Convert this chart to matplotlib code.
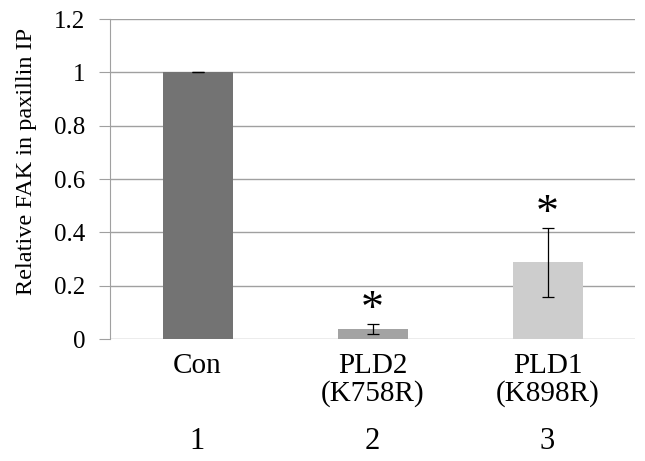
import matplotlib

matplotlib.use('Agg')

import matplotlib.pyplot as plt
import matplotlib.transforms as mtransforms
import numpy as np

plt.rcParams['font.family'] = ['Liberation Serif', 'DejaVu Serif']

categories = ['Con', 'PLD2', 'PLD1']
mutations = ['', '(K758R)', '(K898R)']
lane_numbers = ['1', '2', '3']
values = [1.0, 0.038, 0.288]
errors = [0.0, 0.02, 0.13]
significant = [False, True, True]
bar_colors = ['#737373', '#a3a3a3', '#cdcdcd']

W, H = 645, 461
fig = plt.figure(figsize=(W / 100, H / 100), dpi=100)
ax = fig.add_axes([110 / W, 1 - 339 / H, 525 / W, 320 / H])

x = np.arange(len(categories))
ax.bar(x, values, width=0.4, color=bar_colors, zorder=3)
ax.errorbar(x, values, yerr=errors, fmt='none', ecolor='black',
            elinewidth=0.9, capsize=4, capthick=0.9, zorder=4)

# significance stars sit just above the error bar caps
for xi, v, e, sig in zip(x, values, errors, significant):
    if sig:
        ax.text(xi, v + e - 0.03, '*', ha='center', va='bottom',
                fontsize=33, color='black')

ax.set_xlim(-0.5, len(categories) - 0.5)
ax.set_ylim(0, 1.2)
ax.set_yticks(np.arange(0, 1.21, 0.2))
ax.set_yticklabels(['0', '0.2', '0.4', '0.6', '0.8', '1', '1.2'], fontsize=18)
ax.yaxis.grid(True, color='#a0a0a0', linewidth=1.0, zorder=0)
ax.set_axisbelow(True)

ax.set_xticks([])
ax.tick_params(axis='y', length=8, color='#a0a0a0', pad=10)

for spine in ['top', 'right', 'bottom']:
    ax.spines[spine].set_visible(False)
ax.spines['left'].set_color('#a0a0a0')

# category labels under the axis, placed by figure pixel rows
trans = mtransforms.blended_transform_factory(ax.transData, fig.transFigure)
for xi, name, mut, n in zip(x, categories, mutations, lane_numbers):
    ax.text(xi, 1 - 366 / H, name, transform=trans, ha='center',
            va='center', fontsize=21)
    if mut:
        ax.text(xi, 1 - 394 / H, mut, transform=trans, ha='center',
                va='center', fontsize=21)
    ax.text(xi, 1 - 441 / H, n, transform=trans, ha='center',
            va='center', fontsize=22)

fig.text(27 / W, 1 - 161 / H, 'Relative FAK in paxillin IP', rotation=90,
         ha='center', va='center', fontsize=17.5)

fig.savefig('out.png', dpi=100)
